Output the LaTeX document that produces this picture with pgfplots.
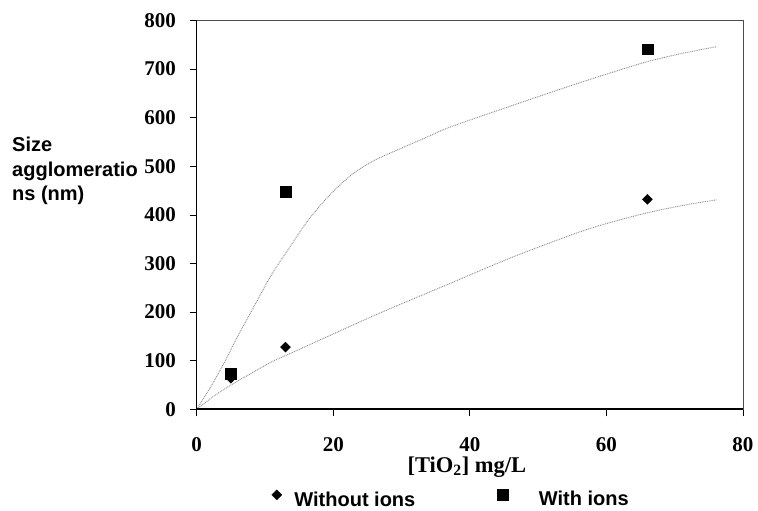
\documentclass[border=0pt]{standalone}
\usepackage{pgfplots}
\pgfplotsset{compat=1.18}
\usepackage{fontspec}
\setmainfont{Liberation Serif}
\setsansfont{Liberation Sans}
\begin{document}
\begin{tikzpicture}
\useasboundingbox (-196.7pt,-101.7pt) rectangle (561.3pt,409.3pt);
\begin{axis}[
  scale only axis,
  width=546.3pt, height=388.8pt,
  xmin=0, xmax=80, ymin=0, ymax=800,
  xtick={0,20,40,60,80}, ytick={0,100,...,800},
  tick align=outside, tick pos=left,
  major tick length=7pt,
  tick style={black, line width=0.8pt},
  axis line style={draw=black!70, line width=0.6pt},
  /pgf/number format/assume math mode=true,
  ticklabel style={font=\fontsize{21}{21}\selectfont\bfseries, inner sep=0pt},
  xticklabel style={anchor=base, yshift=-35.5pt},
  yticklabel style={anchor=east, xshift=-13.5pt},
  xlabel={[TiO\textsubscript{2}] mg/L},
  every axis x label/.style={at={(rel axis cs:0.5,0)}, anchor=base, yshift=-62.7pt, xshift=-3pt, inner sep=0pt, font=\fontsize{22.5}{22.5}\selectfont\bfseries},
  ylabel={Size\\agglomeratio\\ns (nm)},
  every axis y label/.style={at={(rel axis cs:0,0.7003)}, anchor=north west, xshift=-184.7pt, inner sep=0pt, align=left, font=\fontsize{20}{24.5}\selectfont\sffamily\bfseries},
  legend columns=2,
  legend image code/.code={\draw[#1] plot coordinates {(0pt,5pt)};},
  legend style={draw=none, fill=none, at={(rel axis cs:0.1370,-0.2330)}, anchor=west, inner sep=0pt,
    font=\fontsize{20}{20}\selectfont\sffamily\bfseries,
    cells={inner sep=0pt, anchor=west},
    /tikz/column 1/.style={column sep=10.5pt},
    /tikz/column 2/.style={column sep=80pt},
    /tikz/column 3/.style={column sep=29pt}},
]
% trend lines
\addplot[forget plot, smooth, color=black!45, line width=0.9pt, dash pattern=on 0.9pt off 0.9pt] coordinates {
(0,0) (2,45) (4,95) (6,150) (8.8,222) (11,278) (13.7,335) (16,383) (18.5,426) (21,462) (23.4,490) (26,512) (28.3,527) (33.7,560) (36.6,578) (41,600) (46.4,626) (51,648) (56.1,672) (61,694) (65.9,715) (71,732) (76.1,746)};
\addplot[forget plot, smooth, color=black!45, line width=0.9pt, dash pattern=on 0.9pt off 0.9pt] coordinates {
(0,0) (2.5,27) (5.5,54) (11.3,100) (13.7,115) (20,155) (26.8,198) (36.6,256) (46.4,314) (56.1,365) (61,386) (65.9,404) (71,419) (76.1,431)};
% data
\addplot[only marks, mark=square*, mark size=3.6pt, mark options={rotate=45, fill=black, draw=black, line width=0.2pt}] coordinates {
(5,64) (13,128) (66,432)};
\addlegendentry{Without ions}
\addplot[only marks, mark=square*, mark size=5.3pt, mark options={fill=black, draw=black, line width=0.2pt}] coordinates {
(5,73) (13,448) (66,741)};
\addlegendentry{\raisebox{2pt}{With ions}}
\end{axis}
\draw[black, line width=1.6pt] (0pt,388.8pt) -- (0pt,0pt) -- (546.3pt,0pt);
\end{tikzpicture}
\end{document}
